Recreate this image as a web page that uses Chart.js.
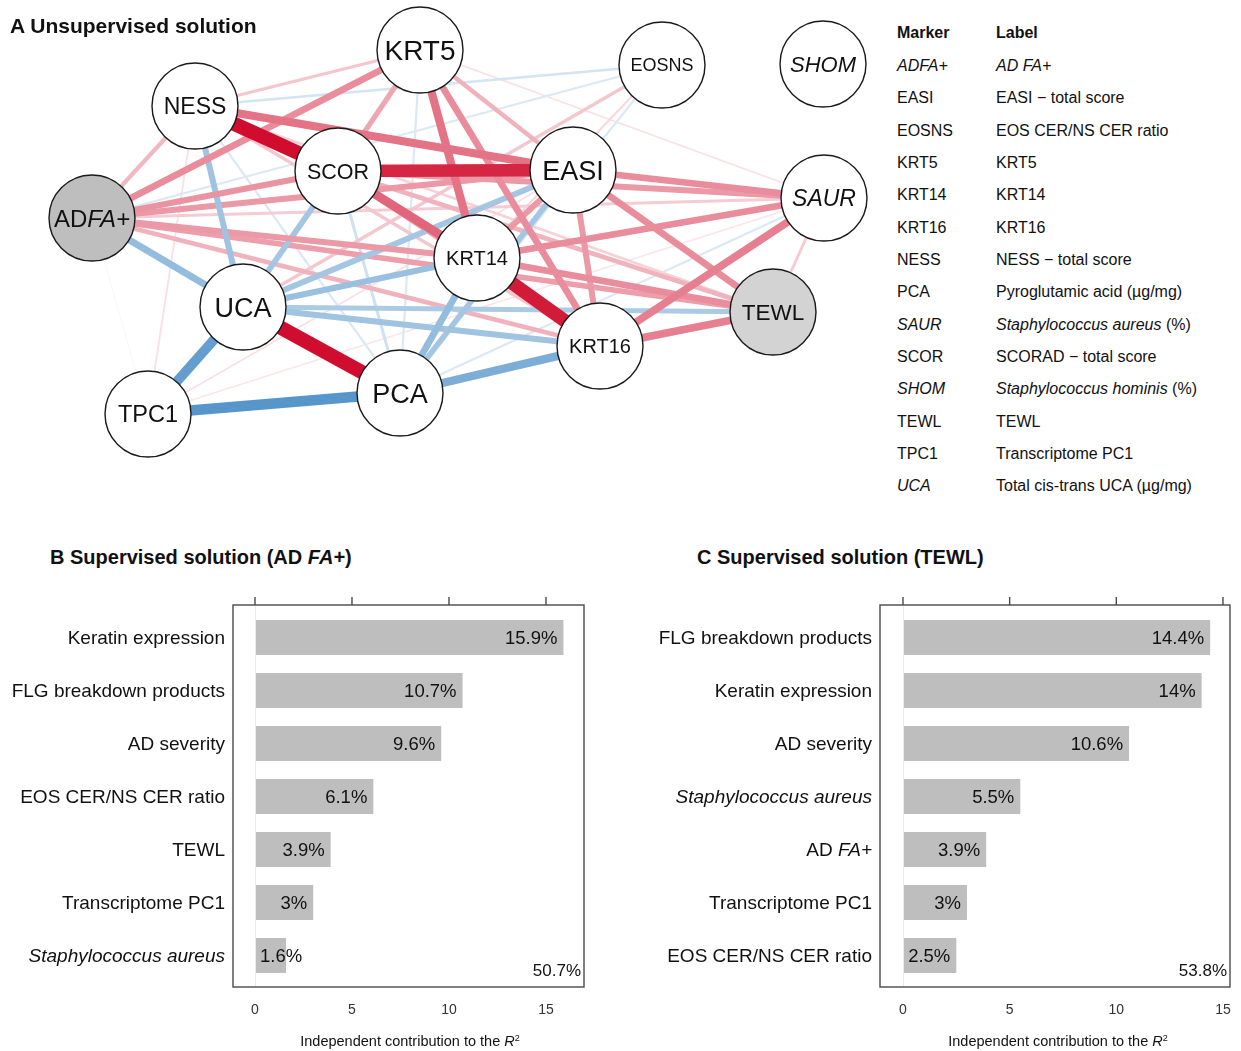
<!DOCTYPE html>
<html>
<head>
<meta charset="utf-8">
<title>Unsupervised and supervised solutions</title>
<script src="https://cdn.jsdelivr.net/npm/chart.js@4/dist/chart.umd.min.js"></script>
<style>
  html, body { margin: 0; padding: 0; background: #fff; }
  body { position: relative; width: 1241px; height: 1051px; overflow: hidden;
         font-family: "Liberation Sans", Arial, sans-serif; color: #111; }
  canvas { position: absolute; }
  .txt { position: absolute; white-space: nowrap; }
  .txt sup { font-size: 0.62em; vertical-align: 0.55em; line-height: 0; }
</style>
</head>
<body>
<canvas id="net" width="880" height="470" style="left:0;top:0"></canvas>
<canvas id="barB" width="620" height="471" style="left:0;top:580px"></canvas>
<canvas id="barC" width="621" height="471" style="left:620px;top:580px"></canvas>
<div id="labels"></div>

<script>
// ---------------- network: nodes (layout coordinates) ----------------
const nodeNames = ['KRT5', 'EOSNS', 'SHOM', 'NESS', 'SCOR', 'EASI', 'SAUR',
                   'ADFA+', 'KRT14', 'UCA', 'TEWL', 'KRT16', 'PCA', 'TPC1'];
const nodeX = [420, 662, 823, 195, 338, 573, 824, 92, 477, 243, 773, 600, 400, 148];
const nodeY = [50, 65, 64, 106, 171, 170, 198, 218, 258, 307, 312, 346, 393, 414];

// ---------------- network: edges [from, to, partial correlation] ----------------
const edges = [
  ['NESS', 'SCOR', 0.95], ['UCA', 'PCA', 0.95], ['KRT14', 'KRT16', 0.9],
  ['SCOR', 'EASI', 0.85], ['TPC1', 'PCA', -0.7], ['TPC1', 'UCA', -0.65],
  ['SCOR', 'KRT14', 0.6], ['NESS', 'EASI', 0.55], ['KRT5', 'KRT14', 0.55],
  ['PCA', 'KRT16', -0.55], ['KRT16', 'SAUR', 0.5], ['KRT16', 'TEWL', 0.5],
  ['KRT5', 'KRT16', 0.45], ['SCOR', 'KRT16', 0.35], ['EASI', 'SAUR', 0.45],
  ['EASI', 'TEWL', 0.45], ['KRT14', 'SAUR', 0.45], ['KRT14', 'TEWL', 0.45],
  ['KRT5', 'ADFA+', 0.45], ['ADFA+', 'UCA', -0.45], ['PCA', 'KRT14', -0.45],
  ['ADFA+', 'SCOR', 0.42], ['UCA', 'KRT14', -0.42], ['SCOR', 'SAUR', 0.4],
  ['EASI', 'KRT16', 0.4], ['EASI', 'KRT14', 0.4], ['ADFA+', 'EASI', 0.4],
  ['ADFA+', 'KRT14', 0.4], ['NESS', 'UCA', -0.4], ['UCA', 'KRT16', -0.4],
  ['ADFA+', 'TEWL', 0.38], ['UCA', 'EASI', -0.38], ['UCA', 'SCOR', -0.38],
  ['PCA', 'EASI', -0.38], ['KRT5', 'SCOR', 0.35], ['UCA', 'TEWL', -0.35],
  ['KRT5', 'EASI', 0.3], ['ADFA+', 'KRT16', 0.3], ['SCOR', 'TEWL', 0.3],
  ['ADFA+', 'NESS', 0.28], ['NESS', 'KRT16', 0.22], ['PCA', 'TEWL', -0.25],
  ['KRT5', 'NESS', 0.22], ['EOSNS', 'UCA', 0.22], ['ADFA+', 'SAUR', 0.2],
  ['SAUR', 'TEWL', 0.2], ['NESS', 'TEWL', 0.18], ['SCOR', 'PCA', -0.2],
  ['NESS', 'EOSNS', -0.18], ['ADFA+', 'EOSNS', -0.15], ['NESS', 'PCA', -0.15],
  ['KRT5', 'PCA', -0.15], ['EOSNS', 'PCA', -0.15], ['EOSNS', 'KRT14', 0.15],
  ['PCA', 'SAUR', -0.15], ['NESS', 'TPC1', 0.12], ['KRT5', 'SAUR', 0.12],
  ['TPC1', 'EASI', 0.12], ['TPC1', 'SAUR', 0.1], ['ADFA+', 'TPC1', 0.04]
];

// ---------------- marker table ----------------
const tableCodes = ['ADFA+', 'EASI', 'EOSNS', 'KRT5', 'KRT14', 'KRT16', 'NESS',
                    'PCA', 'SAUR', 'SCOR', 'SHOM', 'TEWL', 'TPC1', 'UCA'];
const tableLabels = ['AD FA+', 'EASI \u2212 total score', 'EOS CER/NS CER ratio', 'KRT5',
                     'KRT14', 'KRT16', 'NESS \u2212 total score', 'Pyroglutamic acid (\u00b5g/mg)',
                     'Staphylococcus aureus (%)', 'SCORAD \u2212 total score',
                     'Staphylococcus hominis (%)', 'TEWL', 'Transcriptome PC1',
                     'Total cis-trans UCA (\u00b5g/mg)'];

// ---------------- supervised solutions ----------------
const catB = ['Keratin expression', 'FLG breakdown products', 'AD severity',
              'EOS CER/NS CER ratio', 'TEWL', 'Transcriptome PC1', 'Staphylococcus aureus'];
const valB = [15.9, 10.7, 9.6, 6.1, 3.9, 3, 1.6];
const totalB = 50.7;

const catC = ['FLG breakdown products', 'Keratin expression', 'AD severity',
              'Staphylococcus aureus', 'AD FA+', 'Transcriptome PC1', 'EOS CER/NS CER ratio'];
const valC = [14.4, 14, 10.6, 5.5, 3.9, 3, 2.5];
const totalC = 53.8;

const axisTicks = [0, 5, 10, 15];

// ---------------- styling ----------------
const FONT = '"Liberation Sans", Arial, sans-serif';
const italicTerms = ['Staphylococcus aureus', 'Staphylococcus hominis', 'FA+'];
const nodeFill = { 'ADFA+': '#bebebe', 'TEWL': '#d3d3d3' };
const nodeItalic = { 'SAUR': true, 'SHOM': true };
const nodeFontSize = { KRT5: 28, EOSNS: 18, SHOM: 22, NESS: 23, SCOR: 21.5, EASI: 27,
                       SAUR: 23, 'ADFA+': 24, KRT14: 20, UCA: 27, TEWL: 22.5,
                       KRT16: 20, PCA: 27, TPC1: 23.5 };
const NODE_R = 43;

function cssFont(size, italic, bold) {
  return (italic ? 'italic ' : '') + (bold ? 'bold ' : '') + size + 'px ' + FONT;
}

// split a label into plain / italic runs
function splitItalic(text, terms, allItalic) {
  if (allItalic) return [{ t: text, it: true }];
  let segs = [{ t: text, it: false }];
  terms.forEach(term => {
    const out = [];
    segs.forEach(s => {
      if (s.it) { out.push(s); return; }
      const parts = s.t.split(term);
      parts.forEach((p, i) => {
        if (p) out.push({ t: p, it: false });
        if (i < parts.length - 1) out.push({ t: term, it: true });
      });
    });
    segs = out;
  });
  return segs;
}

function drawRich(ctx, segs, x, y, size, align, bold) {
  let w = 0;
  segs.forEach(s => { ctx.font = cssFont(size, s.it, bold); s.w = ctx.measureText(s.t).width; w += s.w; });
  let cx = align === 'right' ? x - w : align === 'center' ? x - w / 2 : x;
  ctx.textAlign = 'left';
  ctx.textBaseline = 'alphabetic';
  segs.forEach(s => { ctx.font = cssFont(size, s.it, bold); ctx.fillText(s.t, cx, y); cx += s.w; });
}

function richHTML(text, terms) {
  return splitItalic(text, terms).map(s => s.it ? '<i>' + s.t + '</i>' : s.t).join('');
}

// positive partial correlations in red, negative in blue; stronger = more saturated
function edgeColor(w) {
  const base = w > 0 ? [205, 0, 35] : [15, 105, 180];
  const t = Math.min(1, Math.abs(w));
  const c = base.map(v => Math.round(255 + (v - 255) * t));
  return 'rgb(' + c.join(',') + ')';
}

// ---------------- panel A: network ----------------
const nodeIndex = name => nodeNames.indexOf(name);
const sortedEdges = edges.slice().sort((a, b) => Math.abs(a[2]) - Math.abs(b[2]));
const edgeSets = sortedEdges.map((e, i) => {
  const a = nodeIndex(e[0]), b = nodeIndex(e[1]);
  return {
    type: 'scatter',
    showLine: true,
    fill: false,
    tension: 0,
    data: [{ x: nodeX[a], y: nodeY[a] }, { x: nodeX[b], y: nodeY[b] }],
    borderColor: edgeColor(e[2]),
    borderWidth: Math.max(1, Math.abs(e[2]) * 15),
    borderCapStyle: 'butt',
    pointRadius: 0,
    pointHoverRadius: 0,
    order: sortedEdges.length - i + 1   // weaker edges are painted first
  };
});

const nodeSet = {
  type: 'scatter',
  showLine: false,
  data: nodeNames.map((n, i) => ({ x: nodeX[i], y: nodeY[i] })),
  pointRadius: NODE_R,
  pointHoverRadius: NODE_R,
  pointBackgroundColor: nodeNames.map(n => nodeFill[n] || '#ffffff'),
  pointBorderColor: '#1a1a1a',
  pointBorderWidth: 1.4,
  order: 0
};

const nodeLabelPlugin = {
  id: 'nodeLabels',
  afterDatasetsDraw(chart) {
    const { ctx, scales: { x, y } } = chart;
    ctx.save();
    ctx.fillStyle = '#111';
    nodeNames.forEach((n, i) => {
      const px = x.getPixelForValue(nodeX[i]);
      const py = y.getPixelForValue(nodeY[i]);
      const size = nodeFontSize[n];
      drawRich(ctx, splitItalic(n, ['FA+'], nodeItalic[n]), px, py + 0.358 * size, size, 'center', false);
    });
    ctx.restore();
  }
};

new Chart(document.getElementById('net'), {
  type: 'scatter',
  data: { datasets: [nodeSet].concat(edgeSets) },
  options: {
    responsive: false, animation: false, events: [], devicePixelRatio: 1,
    layout: { padding: 0, autoPadding: false },
    scales: {
      x: { type: 'linear', min: 0, max: 880, display: false },
      y: { type: 'linear', min: 0, max: 470, reverse: true, display: false }
    },
    plugins: { legend: { display: false }, tooltip: { enabled: false } }
  },
  plugins: [nodeLabelPlugin]
});

// ---------------- panels B and C: bar charts ----------------
function barDecor(cats, vals, total) {
  return {
    id: 'barDecor',
    afterDatasetsDraw(chart) {
      const { ctx, chartArea: a, scales: { x, y } } = chart;
      const top = a.top - 6, bot = a.bottom + 5;
      const x0 = x.getPixelForValue(0);
      ctx.save();
      // faint zero line
      ctx.strokeStyle = '#ececec';
      ctx.lineWidth = 1;
      ctx.beginPath(); ctx.moveTo(x0 + 0.5, top + 1); ctx.lineTo(x0 + 0.5, bot - 1); ctx.stroke();
      // frame
      ctx.strokeStyle = '#4a4a4a';
      ctx.lineWidth = 1.4;
      ctx.strokeRect(a.left, top, a.right - a.left, bot - top);
      // top tick marks + bottom tick labels
      ctx.fillStyle = '#333';
      ctx.font = cssFont(14, false, false);
      ctx.textAlign = 'center';
      ctx.textBaseline = 'middle';
      axisTicks.forEach(v => {
        const px = x.getPixelForValue(v);
        ctx.beginPath(); ctx.moveTo(px, top); ctx.lineTo(px, top - 8); ctx.stroke();
        ctx.fillText(String(v), px, bot + 23);
      });
      // category labels
      ctx.fillStyle = '#111';
      cats.forEach((c, i) => {
        const py = y.getPixelForValue(i);
        drawRich(ctx, splitItalic(c, italicTerms), a.left - 8, py + 0.358 * 19, 19, 'right', false);
      });
      // value labels
      ctx.font = cssFont(18.5, false, false);
      ctx.textAlign = 'right';
      ctx.textBaseline = 'alphabetic';
      vals.forEach((v, i) => {
        const txt = v + '%';
        const w = ctx.measureText(txt).width;
        const end = x.getPixelForValue(v);
        let xr = end - 6;
        if (xr - w < x0 + 5) xr = x0 + 5 + w;
        ctx.fillText(txt, xr, y.getPixelForValue(i) + 0.358 * 18.5);
      });
      // total explained variance
      ctx.font = cssFont(17, false, false);
      ctx.fillText(total + '%', a.right - 3, bot - 17 + 0.358 * 17);
      ctx.restore();
    }
  };
}

function barChart(id, cats, vals, total, xMin, xMax, pad) {
  return new Chart(document.getElementById(id), {
    type: 'bar',
    data: {
      labels: cats,
      datasets: [{ data: vals, backgroundColor: '#bebebe', borderWidth: 0,
                   barPercentage: 0.66, categoryPercentage: 1 }]
    },
    options: {
      indexAxis: 'y',
      responsive: false, animation: false, events: [], devicePixelRatio: 1,
      layout: { padding: pad, autoPadding: false },
      scales: {
        x: { type: 'linear', min: xMin, max: xMax, display: false },
        y: { type: 'category', display: false }
      },
      plugins: { legend: { display: false }, tooltip: { enabled: false } }
    },
    plugins: [barDecor(cats, vals, total)]
  });
}

barChart('barB', catB, valB, totalB, -1.134, 16.96, { left: 233, right: 36, top: 31, bottom: 69 });
barChart('barC', catC, valC, totalC, -1.078, 15.33, { left: 260, right: 11, top: 31, bottom: 69 });

// ---------------- titles and marker table (HTML text) ----------------
const host = document.getElementById('labels');
function placeText(html, x, baseline, size, opts) {
  opts = opts || {};
  const d = document.createElement('div');
  d.className = 'txt';
  d.innerHTML = html;
  d.style.fontSize = size + 'px';
  d.style.lineHeight = size + 'px';
  d.style.fontWeight = opts.bold ? 'bold' : 'normal';
  if (opts.italic) d.style.fontStyle = 'italic';
  d.style.left = x + 'px';
  d.style.top = (baseline - 0.8465 * size) + 'px';
  if (opts.align === 'center') d.style.transform = 'translateX(-50%)';
  if (opts.align === 'right') d.style.transform = 'translateX(-100%)';
  host.appendChild(d);
}

placeText('A Unsupervised solution', 10, 33, 21, { bold: true });
placeText('B Supervised solution (AD <i>FA+</i>)', 50, 564, 20, { bold: true });
placeText('C Supervised solution (TEWL)', 697, 564, 20, { bold: true });
placeText('Independent contribution to the <i>R</i><sup>2</sup>', 410, 1046, 14.5, { align: 'center' });
placeText('Independent contribution to the <i>R</i><sup>2</sup>', 1058, 1046, 14.5, { align: 'center' });

const italicCodes = ['ADFA+', 'SAUR', 'SHOM', 'UCA'];
placeText('Marker', 897, 39, 16, { bold: true });
placeText('Label', 996, 39, 16, { bold: true });
tableCodes.forEach((code, i) => {
  const yb = 39 + 32.35 * (i + 1);
  placeText(code, 897, yb, 16, { italic: italicCodes.includes(code) });
  const lab = tableLabels[i];
  placeText(code === 'ADFA+' ? '<i>' + lab + '</i>' : richHTML(lab, italicTerms), 996, yb, 16);
});
</script>
</body>
</html>
